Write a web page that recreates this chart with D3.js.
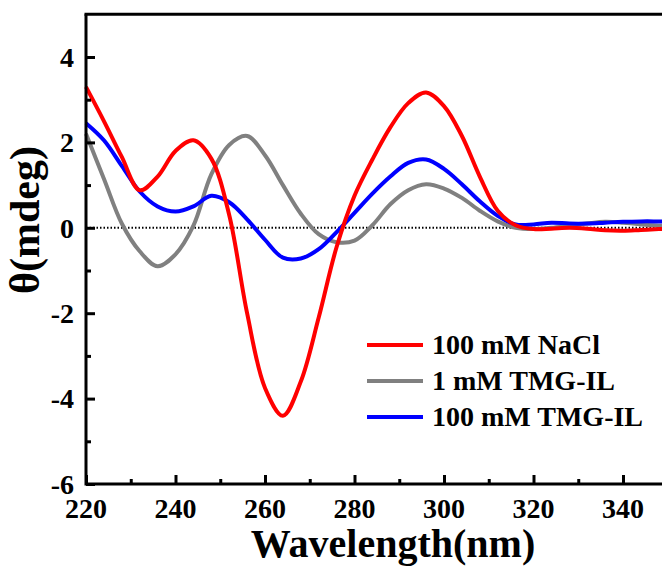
<!DOCTYPE html>
<html>
<head>
<meta charset="utf-8">
<script src="https://cdn.jsdelivr.net/npm/d3@7"></script>
<style>
  body { margin: 0; background: #fff; }
  svg { display: block; }
  text { font-family: "Liberation Serif", "Times New Roman", serif; font-weight: bold; fill: #000; }
</style>
</head>
<body>
<div id="chart"></div>
<script>
(function(d3) {

// wavelengths (nm)
var wavelength = [220, 224, 228, 232, 236, 240, 244, 248, 252, 256, 260, 264, 268, 272, 276, 280,
                  284, 288, 292, 296, 300, 304, 308, 312, 316, 320, 324, 328, 332, 336, 340, 344, 348, 350];

// CD signal (mdeg)
var nacl100 = [3.3, 2.5, 1.66, 0.88, 1.2, 1.8, 2.05, 1.62, 0.3, -2.0, -3.75, -4.4, -3.6, -2.1, -0.45, 0.75,
               1.6, 2.35, 2.92, 3.17, 2.85, 2.15, 1.2, 0.4, 0.06, -0.03, -0.02, 0.0, -0.02, -0.06, -0.07, -0.05, -0.03, -0.02];
var tmg1 = [2.2, 1.15, 0.1, -0.55, -0.9, -0.62, 0.05, 1.25, 1.94, 2.15, 1.7, 1.0, 0.33, -0.15, -0.34, -0.3,
            0.06, 0.55, 0.88, 1.02, 0.92, 0.7, 0.4, 0.15, 0.0, -0.03, 0.0, 0.05, 0.1, 0.14, 0.12, 0.08, 0.05, 0.05];
var tmg100 = [2.45, 2.05, 1.45, 0.85, 0.5, 0.38, 0.5, 0.75, 0.6, 0.2, -0.28, -0.7, -0.72, -0.5, -0.1, 0.35,
              0.8, 1.2, 1.52, 1.6, 1.38, 1.02, 0.62, 0.28, 0.08, 0.08, 0.12, 0.1, 0.1, 0.12, 0.14, 0.15, 0.15, 0.15];

var seriesNames = ['100 mM NaCl', '1 mM TMG-IL', '100 mM TMG-IL'];
var seriesColors = ['#ff0000', '#808080', '#0000ff'];
var seriesValues = [nacl100, tmg1, tmg100];

var xTicks = [220, 240, 260, 280, 300, 320, 340];
var yTicks = [-6, -4, -2, 0, 2, 4];

var width = 662;
var height = 566;

var x = d3.scaleLinear().domain([220, 350]).range([86, 667.75]);
var y = d3.scaleLinear().domain([-6, 5]).range([484, 14.3]);

var svg = d3.select('#chart')
  .append('svg')
  .attr('width', width)
  .attr('height', height);

// zero line
svg.append('line')
  .attr('x1', x(220)).attr('x2', x(350))
  .attr('y1', y(0)).attr('y2', y(0))
  .attr('stroke', '#000')
  .attr('stroke-width', 2)
  .attr('stroke-dasharray', '1.5,2');

var line = d3.line()
  .x(function(d) { return x(d[0]); })
  .y(function(d) { return y(d[1]); })
  .curve(d3.curveCatmullRom.alpha(0.5));

// draw gray, blue, then red on top
[1, 2, 0].forEach(function(i) {
  var pts = wavelength.map(function(w, j) { return [w, seriesValues[i][j]]; });
  svg.append('path')
    .attr('d', line(pts))
    .attr('fill', 'none')
    .attr('stroke', seriesColors[i])
    .attr('stroke-width', 4)
    .attr('stroke-linejoin', 'round');
});

// axes
var xAxis = svg.append('g')
  .attr('transform', 'translate(0,' + y(-6) + ')')
  .call(d3.axisBottom(x).tickValues(d3.range(220, 350, 10)).tickSize(-9).tickFormat(''));
xAxis.selectAll('.tick line')
  .attr('y2', function(d) { return d % 20 === 0 ? -9 : -5; });

var yAxis = svg.append('g')
  .attr('transform', 'translate(' + x(220) + ',0)')
  .call(d3.axisLeft(y).tickValues(d3.range(-6, 5, 1)).tickSize(-9).tickFormat(''));
yAxis.selectAll('.tick line')
  .attr('x2', function(d) { return d % 2 === 0 ? 9 : 5; });

svg.selectAll('.domain').remove();
svg.selectAll('.tick line').attr('stroke', '#000').attr('stroke-width', 3);

// frame lines
svg.append('line')
  .attr('x1', x(220)).attr('x2', width)
  .attr('y1', y(-6)).attr('y2', y(-6))
  .attr('stroke', '#000').attr('stroke-width', 3);
svg.append('line')
  .attr('x1', x(220)).attr('x2', x(220))
  .attr('y1', y(5)).attr('y2', y(-6) + 1.5)
  .attr('stroke', '#000').attr('stroke-width', 3);
svg.append('line')
  .attr('x1', x(220) - 1.5).attr('x2', width)
  .attr('y1', y(5)).attr('y2', y(5))
  .attr('stroke', '#000').attr('stroke-width', 3);

// tick labels
svg.selectAll('.xlab')
  .data(xTicks)
  .enter()
  .append('text')
  .attr('class', 'xlab')
  .attr('x', function(d) { return x(d); })
  .attr('y', 518)
  .attr('text-anchor', 'middle')
  .style('font-size', '28px')
  .text(function(d) { return d; });

svg.selectAll('.ylab')
  .data(yTicks)
  .enter()
  .append('text')
  .attr('class', 'ylab')
  .attr('x', 74)
  .attr('y', function(d) { return y(d); })
  .attr('dy', '0.35em')
  .attr('text-anchor', 'end')
  .style('font-size', '28px')
  .text(function(d) { return d; });

// axis titles
svg.append('text')
  .attr('x', 393)
  .attr('y', 557)
  .attr('text-anchor', 'middle')
  .style('font-size', '40px')
  .text('Wavelength(nm)');

svg.append('text')
  .attr('transform', 'translate(39,220) rotate(-90)')
  .attr('text-anchor', 'middle')
  .style('font-size', '42px')
  .text('\u03b8(mdeg)');

// legend
var legend = svg.selectAll('.legend')
  .data(seriesNames)
  .enter()
  .append('g')
  .attr('class', 'legend')
  .attr('transform', function(d, i) { return 'translate(367,' + (345 + i * 36) + ')'; });

legend.append('line')
  .attr('x1', 0).attr('x2', 56)
  .attr('stroke', function(d, i) { return seriesColors[i]; })
  .attr('stroke-width', 4);

legend.append('text')
  .attr('x', 65)
  .attr('y', 9)
  .style('font-size', '28px')
  .text(function(d) { return d; });

})(window.d3);
</script>
</body>
</html>
